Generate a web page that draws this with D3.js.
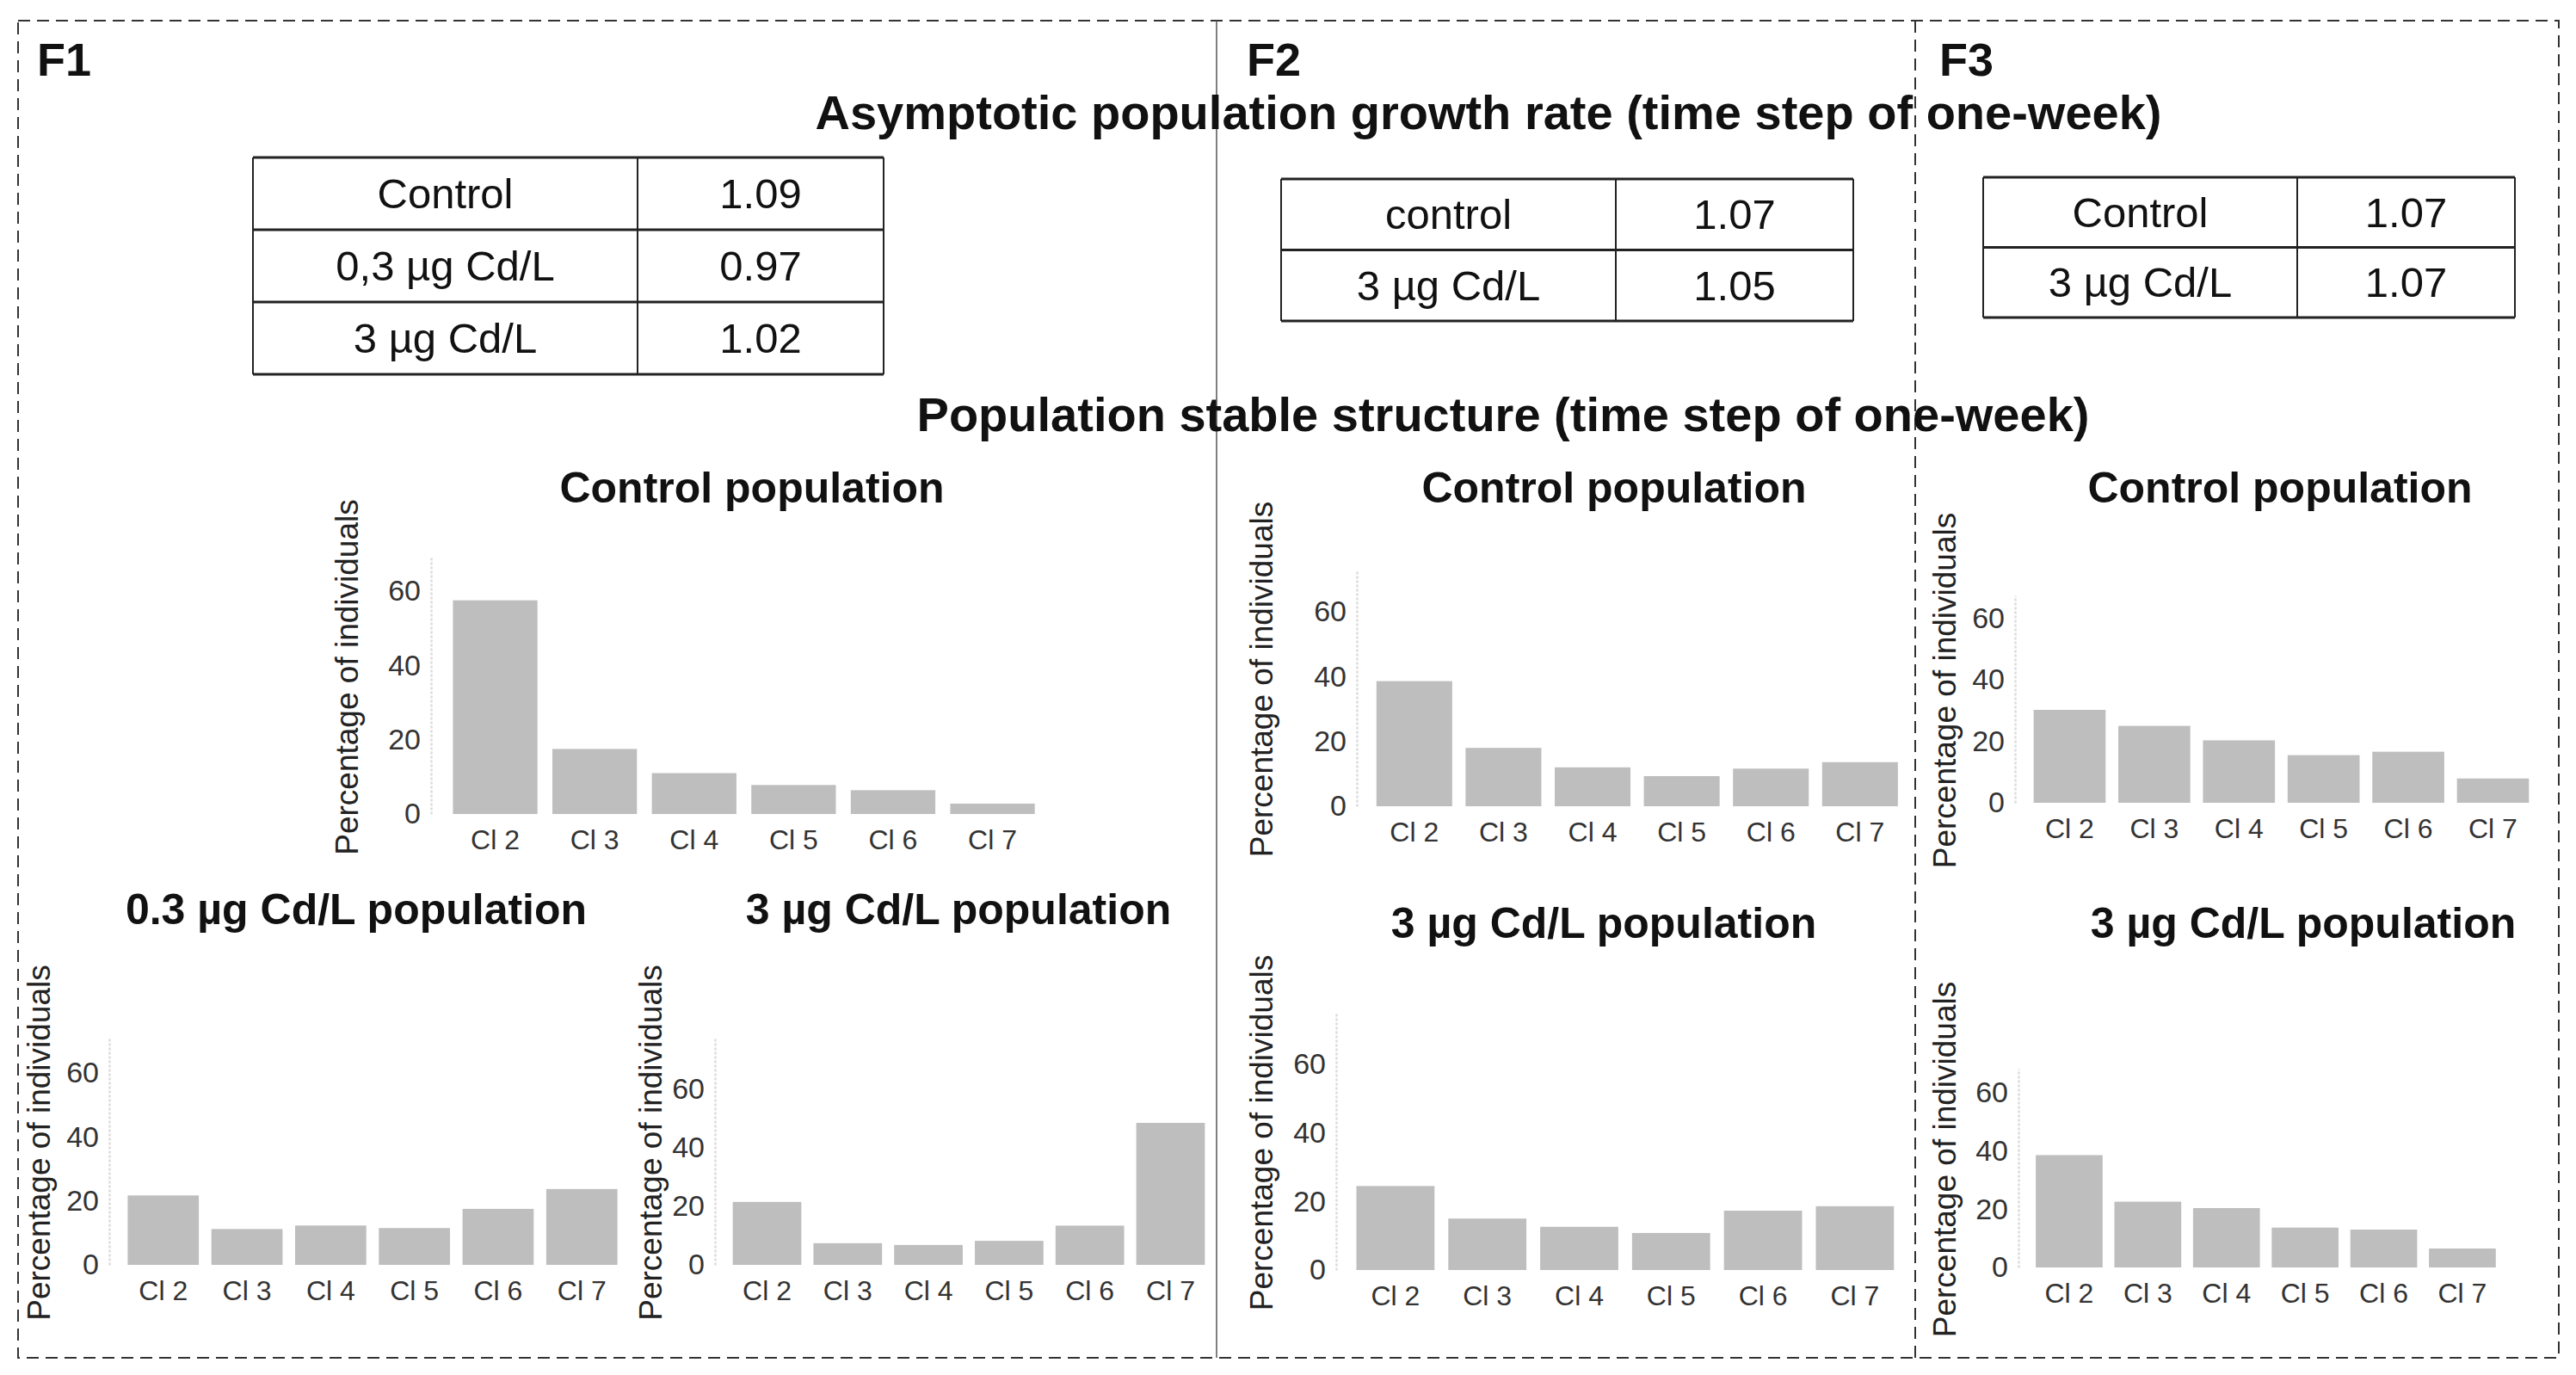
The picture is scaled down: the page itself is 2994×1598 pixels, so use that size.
<!DOCTYPE html>
<html lang="en">
<head>
<meta charset="UTF-8">
<title>Asymptotic growth rate and stable structure</title>
<style>
  body { margin: 0; background: #fff; font-family: "Liberation Sans", Arial, sans-serif; }
  .bar { fill: #bebebe; }
  .tick text { fill: #333; }
  .ytitle { fill: #222; font-size: 37px; }
  .ptitle { font-weight: bold; font-size: 50px; fill: #111; }
  .big { font-weight: bold; font-size: 56px; fill: #111; }
  .flabel { font-weight: bold; font-size: 54px; fill: #111; }
  .cell { font-size: 49px; fill: #111; }
</style>
</head>
<body>
<svg id="chart" width="2994" height="1598"></svg>
<script src="https://d3js.org/d3.v7.min.js"></script>
<script>
// size classes shown on every bar chart
const categories = ["Cl 2", "Cl 3", "Cl 4", "Cl 5", "Cl 6", "Cl 7"];
const yTicks = [0, 20, 40, 60];

// stable structure, percentage of individuals
const f1Control = [57.5, 17.5, 11, 7.8, 6.4, 2.8];
const f1Cd03 = [21.7, 11.2, 12.3, 11.5, 17.5, 23.7];
const f1Cd3 = [21.5, 7.4, 6.8, 8.2, 13.4, 48.5];
const f2Control = [38.6, 18, 12, 9.3, 11.6, 13.6];
const f2Cd3 = [24.5, 15, 12.6, 10.8, 17.3, 18.6];
const f3Control = [30.2, 25, 20.3, 15.5, 16.6, 7.9];
const f3Cd3 = [38.6, 22.6, 20.4, 13.7, 13, 6.5];

// upper limit of each y axis
const yLimits = [69, 71, 77.6, 73, 75, 67.4, 68.3];

// asymptotic growth rate tables
const f1Treatments = ["Control", "0,3 µg Cd/L", "3 µg Cd/L"];
const f1Lambda = ["1.09", "0.97", "1.02"];
const f2Treatments = ["control", "3 µg Cd/L"];
const f2Lambda = ["1.07", "1.05"];
const f3Treatments = ["Control", "3 µg Cd/L"];
const f3Lambda = ["1.07", "1.07"];

const svg = d3.select("#chart");

// frame: dashed outer box, solid F1|F2 divider, dashed F2|F3 divider
const frame = svg.append("g").attr("fill", "none").attr("stroke", "#333");
frame.append("rect")
    .attr("x", 21).attr("y", 24).attr("width", 2953).attr("height", 1554)
    .attr("stroke-width", 2).attr("stroke-dasharray", "14,8");
frame.append("line")
    .attr("x1", 1414).attr("x2", 1414).attr("y1", 24).attr("y2", 1578)
    .attr("stroke", "#555").attr("stroke-width", 1.5);
frame.append("line")
    .attr("x1", 2226).attr("x2", 2226).attr("y1", 24).attr("y2", 1578)
    .attr("stroke-width", 2).attr("stroke-dasharray", "14,8");

// panel labels
[["F1", 43], ["F2", 1449], ["F3", 2254]].forEach(([t, x]) => {
    svg.append("text").attr("class", "flabel").attr("x", x).attr("y", 88).text(t);
});

svg.append("text").attr("class", "big")
    .attr("x", 1730).attr("y", 150).attr("text-anchor", "middle")
    .text("Asymptotic population growth rate (time step of one-week)");
svg.append("text").attr("class", "big")
    .attr("x", 1747).attr("y", 501).attr("text-anchor", "middle")
    .text("Population stable structure (time step of one-week)");

// tables of lambda
function drawTable(names, values, box) {
    const g = svg.append("g");
    const rows = d3.scaleBand().domain(d3.range(names.length)).range([box.y0, box.y1]);
    const rh = rows.bandwidth();
    g.selectAll("line.h")
        .data(d3.range(names.length + 1))
        .enter().append("line")
        .attr("x1", box.x0).attr("x2", box.x1)
        .attr("y1", i => box.y0 + i * rh).attr("y2", i => box.y0 + i * rh)
        .attr("stroke", "#222").attr("stroke-width", 3);
    [box.x0, box.xm, box.x1].forEach(x => {
        g.append("line")
            .attr("x1", x).attr("x2", x).attr("y1", box.y0).attr("y2", box.y1)
            .attr("stroke", "#222").attr("stroke-width", 2);
    });
    g.selectAll("text.n")
        .data(names)
        .enter().append("text").attr("class", "cell")
        .attr("x", (box.x0 + box.xm) / 2)
        .attr("y", (d, i) => rows(i) + rh / 2 + 17)
        .attr("text-anchor", "middle")
        .text(d => d);
    g.selectAll("text.v")
        .data(values)
        .enter().append("text").attr("class", "cell")
        .attr("x", (box.xm + box.x1) / 2)
        .attr("y", (d, i) => rows(i) + rh / 2 + 17)
        .attr("text-anchor", "middle")
        .text(d => d);
}

drawTable(f1Treatments, f1Lambda, { x0: 294, xm: 741, x1: 1027, y0: 183, y1: 435 });
drawTable(f2Treatments, f2Lambda, { x0: 1489, xm: 1878, x1: 2154, y0: 208, y1: 373 });
drawTable(f3Treatments, f3Lambda, { x0: 2305, xm: 2670, x1: 2923, y0: 206, y1: 369 });

// bar charts
const charts = [
    { title: "Control population",     values: f1Control, x0: 501,  step: 115.6, top: 648,  bottom: 946,  tx: 874,  ty: 584,  yt: 403 },
    { title: "0.3 µg Cd/L population", values: f1Cd03,    x0: 127,  step: 97.3,  top: 1206, bottom: 1470, tx: 414,  ty: 1074, yt: 45 },
    { title: "3 µg Cd/L population",   values: f1Cd3,     x0: 831,  step: 93.8,  top: 1206, bottom: 1470, tx: 1114, ty: 1074, yt: 756 },
    { title: "Control population",     values: f2Control, x0: 1577, step: 103.6, top: 662,  bottom: 937,  tx: 1876, ty: 584,  yt: 1466 },
    { title: "3 µg Cd/L population",   values: f2Cd3,     x0: 1553, step: 106.8, top: 1177, bottom: 1476, tx: 1864, ty: 1090, yt: 1466 },
    { title: "Control population",     values: f3Control, x0: 2342, step: 98.4,  top: 692,  bottom: 933,  tx: 2650, ty: 584,  yt: 2260 },
    { title: "3 µg Cd/L population",   values: f3Cd3,     x0: 2346, step: 91.4,  top: 1242, bottom: 1473, tx: 2677, ty: 1090, yt: 2260 }
];

const padIn = 0.15, padOut = 0.22;

charts.forEach((c, k) => {
    const x1 = c.x0 + c.step * (categories.length - padIn + 2 * padOut);
    const x = d3.scaleBand().domain(categories).range([c.x0, x1])
        .paddingInner(padIn).paddingOuter(padOut);
    const y = d3.scaleLinear().domain([0, yLimits[k]]).range([c.bottom, c.top]);
    const g = svg.append("g");

    g.selectAll("rect")
        .data(c.values)
        .enter().append("rect")
        .attr("class", "bar")
        .attr("x", (d, i) => x(categories[i]))
        .attr("width", x.bandwidth())
        .attr("y", d => y(d))
        .attr("height", d => y(0) - y(d));

    // light dotted axis line, no tick marks
    const ya = g.append("g")
        .attr("transform", `translate(${c.x0},0)`)
        .call(d3.axisLeft(y).tickValues(yTicks).tickSize(0).tickSizeOuter(0).tickPadding(12));
    ya.select(".domain").attr("stroke", "#dcdcdc").attr("stroke-width", 2.5)
        .attr("stroke-dasharray", "3,2");
    ya.selectAll("text").attr("font-size", 34).attr("font-family", "Liberation Sans, Arial, sans-serif");

    const xa = g.append("g")
        .attr("transform", `translate(0,${c.bottom})`)
        .call(d3.axisBottom(x).tickSize(0).tickPadding(18));
    xa.select(".domain").remove();
    xa.selectAll("text").attr("font-size", 32).attr("font-family", "Liberation Sans, Arial, sans-serif");

    g.append("text").attr("class", "ptitle")
        .attr("x", c.tx).attr("y", c.ty).attr("text-anchor", "middle")
        .text(c.title);

    g.append("text").attr("class", "ytitle")
        .attr("transform", `translate(${c.yt + 13},${(c.top + c.bottom) / 2 - 10}) rotate(-90)`)
        .attr("text-anchor", "middle")
        .text("Percentage of individuals");
});
</script>
</body>
</html>
